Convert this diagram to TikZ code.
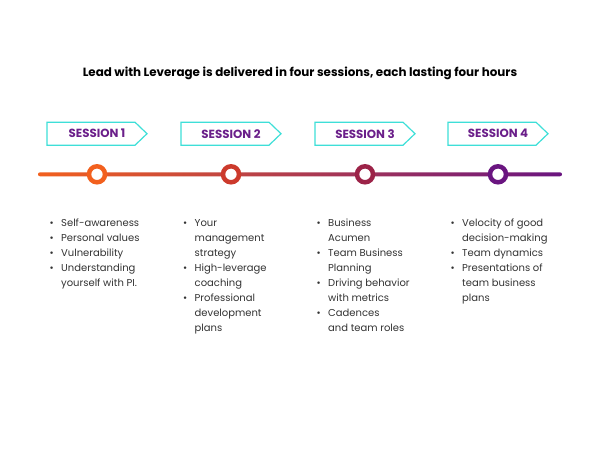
\documentclass[tikz,border=0pt]{standalone}
\usepackage{fontspec}
\setmainfont{Poppins}
\usetikzlibrary{calc}
\definecolor{sesspurple}{HTML}{6B1F8A}
\definecolor{cyanline}{HTML}{3EDFD8}
\definecolor{bodytext}{HTML}{333333}
\definecolor{cA}{HTML}{F2601E}
\definecolor{cB}{HTML}{CC3A2C}
\definecolor{cC}{HTML}{9C2348}
\definecolor{cD}{HTML}{6A1580}
\definecolor{cMid}{HTML}{B52F3A}
\tikzset{
  sesstext/.style={font=\fontsize{11.8}{13}\selectfont\bfseries, text=sesspurple, inner sep=0pt},
  sessframe/.style={draw=cyanline, line width=1.2pt},
  ring/.style={circle, draw=#1, fill=white, line width=4.5pt, minimum size=16pt, inner sep=0pt},
  topics/.style={anchor=base west, inner sep=0pt, text=bodytext, font=\fontsize{10}{15}\selectfont, align=left},
  titletext/.style={font=\fontsize{11.9}{14}\selectfont\bfseries, text=black, inner sep=0pt}
}
\newcommand{\bitem}{\makebox[11.5pt][l]{•}}
\begin{document}
\begin{tikzpicture}[x=1pt,y=-1pt]
\useasboundingbox (0,0) rectangle (600,450);
\fill[white] (0,0) rectangle (600,450);

\node[titletext] (title) at (300,73) {Lead with Leverage is delivered in four sessions, each lasting four hours};

% session labels
\foreach \i/\x in {1/97,2/231,3/365,4/498}{
  \node[sesstext] (s\i) at (\x,133.7) {SESSION \i};
  \draw[sessframe] ($(s\i.center)+(-50,-11.5)$) -- ($(s\i.center)+(38,-11.5)$)
     -- ($(s\i.center)+(50,0)$) -- ($(s\i.center)+(38,11.5)$)
     -- ($(s\i.center)+(-50,11.5)$) -- cycle;
}

% timeline
\coordinate (tstart) at (38,174.3);
\coordinate (tend) at (562,174.3);
\shade[left color=cA, middle color=cMid, right color=cD, rounded corners=2pt]
  ($(tstart)+(0,-2)$) rectangle ($(tend)+(0,2)$);
\node[ring=cA] (c1) at (97,174.3) {};
\node[ring=cB] (c2) at (231,174.3) {};
\node[ring=cC] (c3) at (365,174.3) {};
\node[ring=cD] (c4) at (498,174.3) {};

% topics
\node[topics] (t1) at (49.5,226.5) {\begin{tabular}[t]{@{}l@{}l@{}}
\bitem & Self-awareness\\
\bitem & Personal values\\
\bitem & Vulnerability\\
\bitem & Understanding\\
 & yourself with PI.
\end{tabular}};
\node[topics] (t2) at (183,226.5) {\begin{tabular}[t]{@{}l@{}l@{}}
\bitem & Your\\
 & management\\
 & strategy\\
\bitem & High-leverage\\
 & coaching\\
\bitem & Professional\\
 & development\\
 & plans
\end{tabular}};
\node[topics] (t3) at (316.5,226.5) {\begin{tabular}[t]{@{}l@{}l@{}}
\bitem & Business\\
 & Acumen\\
\bitem & Team Business\\
 & Planning\\
\bitem & Driving behavior\\
 & with metrics\\
\bitem & Cadences\\
 & and team roles
\end{tabular}};
\node[topics] (t4) at (450.5,226.5) {\begin{tabular}[t]{@{}l@{}l@{}}
\bitem & Velocity of good\\
 & decision-making\\
\bitem & Team dynamics\\
\bitem & Presentations of\\
 & team business\\
 & plans
\end{tabular}};
\end{tikzpicture}
\end{document}
